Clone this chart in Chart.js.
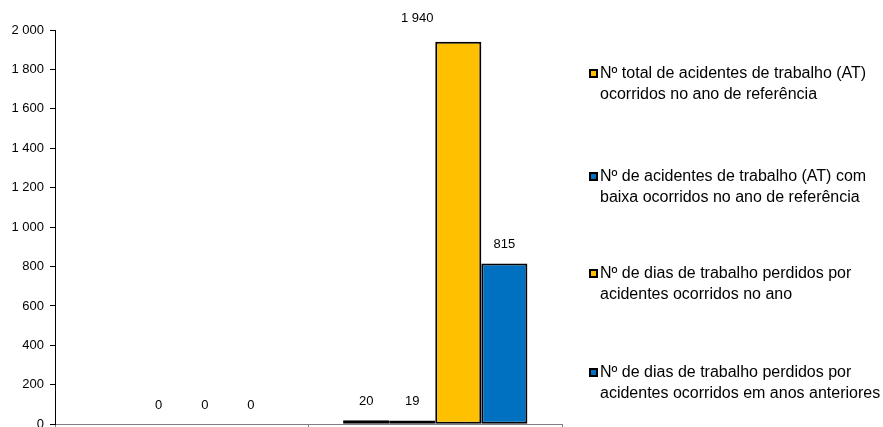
<!DOCTYPE html>
<html>
<head>
<meta charset="utf-8">
<script src="https://cdn.jsdelivr.net/npm/chart.js@4/dist/chart.umd.min.js"></script>
<style>
  html, body { margin: 0; padding: 0; background: #fff; overflow: hidden; }
  #wrap { position: relative; width: 883px; height: 438px; }
  #legend { position: absolute; left: 0; top: 0; width: 883px; height: 427px; pointer-events: none; }
  .item { position: absolute; left: 589px; font-family: Arial, 'Liberation Sans', sans-serif; font-size: 16px; line-height: 21px; color: #000; }
  .item .box { position: absolute; left: 0; top: 7px; width: 5px; height: 5px; border: 2px solid #000; }
  .item .txt { margin-left: 11px; white-space: nowrap; }
</style>
</head>
<body>
<div id="wrap">
  <canvas id="c"></canvas>
  <div id="legend"></div>
</div>
<script>
const categories = ["Categoria 1", "Categoria 2"];
const seriesNames = [
  ["Nº total de acidentes de trabalho (AT)", "ocorridos no ano de referência"],
  ["Nº de acidentes de trabalho (AT) com", "baixa ocorridos no ano de referência"],
  ["Nº de dias de trabalho perdidos por", "acidentes ocorridos no ano"],
  ["Nº de dias de trabalho perdidos por", "acidentes ocorridos em anos anteriores"]
];
const totalAT = [null, 20];
const atComBaixa = [0, 19];
const diasPerdidosAno = [0, 1940];
const diasPerdidosAnteriores = [0, 815];
const seriesColors = ["#FFC000", "#0070C0", "#FFC000", "#0070C0"];
const yTicks = [0, 200, 400, 600, 800, 1000, 1200, 1400, 1600, 1800, 2000];

const seriesData = [totalAT, atComBaixa, diasPerdidosAno, diasPerdidosAnteriores];
const fmt = v => String(v).replace(/\B(?=(\d{3})+(?!\d))/g, ' ');

const FONT = "Arial, 'Liberation Sans', sans-serif";

const valueLabels = {
  id: 'valueLabels',
  afterDatasetsDraw(chart) {
    const ctx = chart.ctx;
    ctx.save();
    ctx.font = '13px ' + FONT;
    ctx.fillStyle = '#000';
    ctx.textAlign = 'center';
    ctx.textBaseline = 'middle';
    chart.data.datasets.forEach((ds, i) => {
      const meta = chart.getDatasetMeta(i);
      meta.data.forEach((el, j) => {
        const v = ds.data[j];
        if (v === null || v === undefined) return;
        let x = el.x, y = el.y - 19;
        if (y < chart.chartArea.top) { x -= (el.width - 5); y -= 4; }
        ctx.fillText(fmt(v), x, y);
      });
    });
    ctx.restore();
  }
};

new Chart(document.getElementById('c'), {
  type: 'bar',
  data: {
    labels: categories,
    datasets: seriesData.map((d, i) => ({
      label: seriesNames[i].join(' '),
      data: d,
      backgroundColor: seriesColors[i],
      borderColor: '#000',
      borderWidth: c => (c.raw ? 2 : 0),
      borderSkipped: false,
      categoryPercentage: 0.727,
      barPercentage: 1.0
    }))
  },
  options: {
    responsive: true,
    maintainAspectRatio: false,
    animation: false,
    layout: { padding: { top: 30, right: 321, left: 0, bottom: 0 } },
    plugins: { legend: { display: false }, tooltip: { enabled: false } },
    scales: {
      x: {
        grid: { display: true, drawOnChartArea: false, drawTicks: true, tickLength: 4, color: '#808080', offset: true },
        border: { display: true, color: '#808080', width: 1 },
        ticks: { display: false },
        afterFit: s => { s.height = 4; }
      },
      y: {
        min: 0, max: 2000,
        afterBuildTicks: s => { s.ticks = yTicks.map(v => ({ value: v })); },
        grid: { display: true, drawOnChartArea: false, drawTicks: true, tickLength: 5, color: '#000' },
        border: { display: true, color: '#000', width: 1 },
        ticks: { font: { family: FONT, size: 13 }, color: '#000', padding: 6, callback: v => fmt(v) },
        afterFit: s => { s.width = 55; }
      }
    }
  },
  plugins: [valueLabels]
});

const lg = document.getElementById('legend');
const legendTops = [62, 165, 262, 361];
seriesNames.forEach((lines, i) => {
  const it = document.createElement('div');
  it.className = 'item';
  it.style.top = legendTops[i] + 'px';
  const b = document.createElement('div');
  b.className = 'box';
  b.style.background = seriesColors[i];
  const t = document.createElement('div');
  t.className = 'txt';
  t.innerHTML = lines.join('<br>');
  it.appendChild(b); it.appendChild(t);
  lg.appendChild(it);
});
</script>
</body>
</html>
